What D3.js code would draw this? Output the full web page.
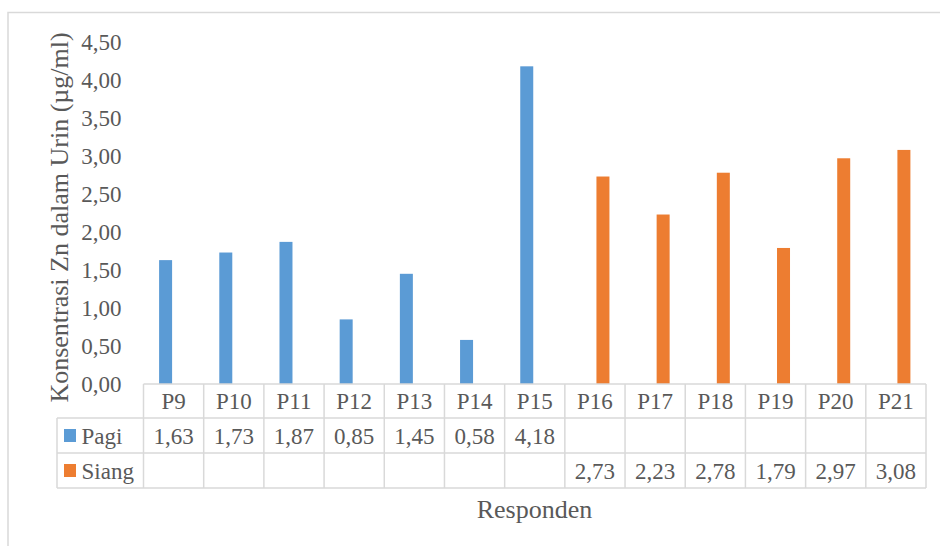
<!DOCTYPE html>
<html>
<head>
<meta charset="utf-8">
<script src="https://cdn.jsdelivr.net/npm/d3@7"></script>
<style>
  html, body { margin: 0; padding: 0; background: #fff; }
  svg { display: block; }
  text { font-family: "Liberation Serif", "Times New Roman", serif; fill: #595959; }
</style>
</head>
<body>
<svg id="chart" width="940" height="546"></svg>
<script>
// Respondents and their urinary Zn concentration (µg/ml)
const categories = ["P9", "P10", "P11", "P12", "P13", "P14", "P15", "P16", "P17", "P18", "P19", "P20", "P21"];
const seriesNames = ["Pagi", "Siang"];
const pagiValues  = [1.63, 1.73, 1.87, 0.85, 1.45, 0.58, 4.18, null, null, null, null, null, null];
const siangValues = [null, null, null, null, null, null, null, 2.73, 2.23, 2.78, 1.79, 2.97, 3.08];
const yTicks = [0, 0.5, 1, 1.5, 2, 2.5, 3, 3.5, 4, 4.5];
const colors = ["#5B9BD5", "#ED7D31"];

const yTitle = "Konsentrasi Zn dalam Urin (µg/ml)";
const xTitle = "Responden";

const seriesValues = [pagiValues, siangValues];

const locale = d3.formatLocale({ decimal: ",", thousands: ".", grouping: [3], currency: ["", ""] });
const fmt = locale.format(".2f");

const svg = d3.select("#chart");
const grid = "#d9d9d9";

// chart area border
svg.append("path")
  .attr("d", "M8,546 L8,12.5 L940,12.5")
  .attr("fill", "none").attr("stroke", grid).attr("stroke-width", 1.5);

const plotLeft = 143.5, plotRight = 926, plotTop = 42, plotBottom = 384;

const x0 = d3.scaleBand().domain(categories).range([plotLeft, plotRight]).padding(0);
const bw = x0.bandwidth();
const x1 = d3.scaleBand().domain(seriesNames).range([0, bw]).paddingInner(0.1875).paddingOuter(0.975);
const y = d3.scaleLinear().domain([0, 4.5]).range([plotBottom, plotTop]);

// value axis (labels only)
const yAxis = d3.axisLeft(y).tickValues(yTicks).tickFormat(fmt).tickSize(0).tickPadding(22);
const gy = svg.append("g").attr("transform", `translate(${plotLeft},0)`).call(yAxis);
gy.select(".domain").remove();
gy.selectAll("text").attr("font-size", 23).attr("fill", "#595959")
  .style("font-family", '"Liberation Serif", "Times New Roman", serif');

// bars
seriesNames.forEach((s, si) => {
  svg.append("g").selectAll("rect")
    .data(categories.map((c, i) => ({ c, v: seriesValues[si][i] })).filter(d => d.v != null))
    .join("rect")
    .attr("x", d => x0(d.c) + x1(s))
    .attr("width", x1.bandwidth())
    .attr("y", d => y(d.v))
    .attr("height", d => y(0) - y(d.v))
    .attr("fill", colors[si]);
});

// data table
const rowTop = [384, 418, 453];
const rowBot = 488;
const legendLeft = 57;
const tbl = svg.append("g").attr("fill", "none").attr("stroke", grid).attr("stroke-width", 1.5);

// horizontal lines
tbl.append("line").attr("x1", plotLeft).attr("x2", plotRight).attr("y1", rowTop[0]).attr("y2", rowTop[0]);
[rowTop[1], rowTop[2], rowBot].forEach(yy => {
  tbl.append("line").attr("x1", legendLeft).attr("x2", plotRight).attr("y1", yy).attr("y2", yy);
});
// vertical lines
tbl.append("line").attr("x1", legendLeft).attr("x2", legendLeft).attr("y1", rowTop[1]).attr("y2", rowBot);
categories.forEach(c => {
  tbl.append("line").attr("x1", x0(c)).attr("x2", x0(c)).attr("y1", rowTop[0]).attr("y2", rowBot);
});
tbl.append("line").attr("x1", plotRight).attr("x2", plotRight).attr("y1", rowTop[0]).attr("y2", rowBot);

// header row
svg.append("g").selectAll("text").data(categories).join("text")
  .attr("x", d => x0(d) + bw / 2)
  .attr("y", (rowTop[0] + rowTop[1]) / 2 + 8)
  .attr("text-anchor", "middle").attr("font-size", 23)
  .text(d => d);

// series rows
const rowMids = [(rowTop[1] + rowTop[2]) / 2, (rowTop[2] + rowBot) / 2];
seriesNames.forEach((s, si) => {
  const g = svg.append("g");
  g.append("rect")
    .attr("x", 64).attr("y", rowMids[si] - 6.5)
    .attr("width", 12).attr("height", 13)
    .attr("fill", colors[si]);
  g.append("text")
    .attr("x", 81.5).attr("y", rowMids[si] + 8)
    .attr("font-size", 23).text(s);
  g.selectAll("text.v")
    .data(categories.map((c, i) => ({ c, v: seriesValues[si][i] })).filter(d => d.v != null))
    .join("text").attr("class", "v")
    .attr("x", d => x0(d.c) + bw / 2)
    .attr("y", rowMids[si] + 8)
    .attr("text-anchor", "middle").attr("font-size", 23)
    .text(d => fmt(d.v));
});

// axis titles
svg.append("text")
  .attr("transform", "translate(68,217.5) rotate(-90)")
  .attr("text-anchor", "middle").attr("font-size", 26)
  .text(yTitle);

svg.append("text")
  .attr("x", 534.5).attr("y", 518)
  .attr("text-anchor", "middle").attr("font-size", 26)
  .text(xTitle);
</script>
</body>
</html>
